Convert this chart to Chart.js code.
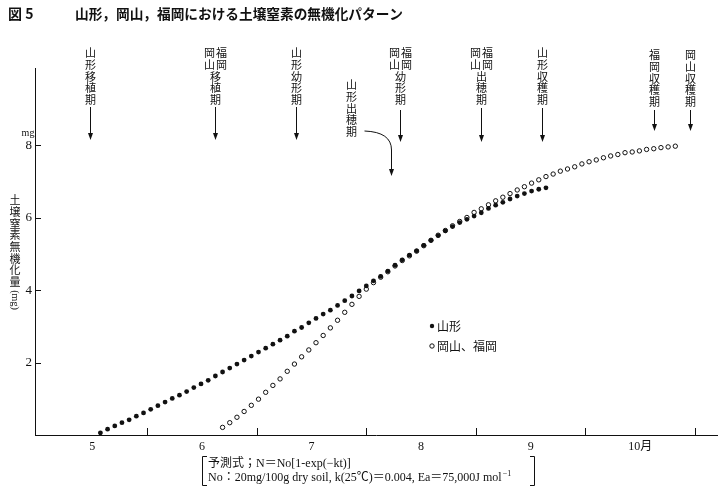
<!DOCTYPE html>
<html>
<head>
<meta charset="utf-8">
<script src="https://cdn.jsdelivr.net/npm/chart.js@4.4.1/dist/chart.umd.min.js"></script>
<style>
  html, body { margin: 0; padding: 0; background: #fff; }
  canvas { display: block; }
</style>
</head>
<body>
<canvas id="chart" width="726" height="492"></canvas>
<script>
// days counted from May 1, one sample every 2 days
const days = [18, 20, 22, 24, 26, 28, 30, 32, 34, 36, 38, 40, 42, 44, 46, 48, 50,
  52, 54, 56, 58, 60, 62, 64, 66, 68, 70, 72, 74, 76, 78, 80, 82, 84, 86, 88, 90,
  92, 94, 96, 98, 100, 102, 104, 106, 108, 110, 112, 114, 116, 118, 120, 122, 124,
  126, 128, 130, 132, 134, 136, 138, 140, 142, 144, 146, 148, 150, 152, 154, 156,
  158, 160, 162, 164, 166, 168, 170, 172, 174, 176, 178];

// 山形 (mg)
const yamagata = [0.06, 0.16, 0.25, 0.34, 0.42, 0.52, 0.61, 0.71, 0.81, 0.91,
  1.01, 1.10, 1.20, 1.31, 1.41, 1.51, 1.63, 1.74, 1.85, 1.96,
  2.07, 2.18, 2.29, 2.40, 2.51, 2.62, 2.73, 2.87, 2.97, 3.10,
  3.22, 3.34, 3.45, 3.58, 3.71, 3.84, 3.98, 4.12, 4.26, 4.38,
  4.53, 4.69, 4.84, 4.97, 5.09, 5.24, 5.38, 5.51, 5.64, 5.76,
  5.87, 5.96, 6.05, 6.14, 6.26, 6.35, 6.43, 6.52, 6.60, 6.67,
  6.74, 6.79, 6.83,
  null, null, null, null, null, null, null, null, null, null,
  null, null, null, null, null, null, null, null];

// 岡山、福岡 (mg)
const okayamaFukuoka = [null, null, null, null, null, null, null, null, null,
  null, null, null, null, null, null, null, null,
  0.21, 0.34, 0.49, 0.65, 0.82, 0.99, 1.18, 1.37, 1.55, 1.76,
  1.96, 2.16, 2.35, 2.55, 2.75, 2.96, 3.17, 3.39, 3.61, 3.83,
  4.03, 4.21, 4.36, 4.51, 4.67, 4.82, 4.95, 5.08, 5.23, 5.38,
  5.52, 5.65, 5.78, 5.90, 6.01, 6.15, 6.25, 6.36, 6.47, 6.57,
  6.67, 6.77, 6.86, 6.96, 7.05, 7.14, 7.21, 7.29, 7.35, 7.41,
  7.49, 7.55, 7.60, 7.66, 7.71, 7.75, 7.80, 7.82, 7.85, 7.89,
  7.91, 7.94, 7.96, 7.98];

const monthEdges = [0.5, 31, 61.5, 92, 122.5, 153, 183.5];
const monthLabels = ['5', '6', '7', '8', '9', '10月'];
const yTicks = [2, 4, 6, 8];

// growth stages: '右列|左列|下' for the two-column headings
const stageLabels = ['山形移植期', '福岡|岡山|移植期', '山形幼形期', '山形出穂期',
  '福岡|岡山|幼形期', '福岡|岡山|出穂期', '山形収穫期', '福岡収穫期', '岡山収穫期'];
const stageDays = [15, 50, 72.5, 99, 101.5, 124, 141, 172, 182];

const monthCenters = monthLabels.map((m, i) => (monthEdges[i] + monthEdges[i + 1]) / 2);

function toPoints(vals) {
  return days.map((d, i) => ({ x: d, y: vals[i] })).filter(p => p.y !== null);
}

const JP = '"Noto Sans CJK JP", sans-serif';
const SERIF = '"Liberation Serif", "Noto Sans CJK JP", serif';

// layout of the stage labels (pixels)
const stageLayout = [
  { top: 53, a1: 107, a2: 140 },
  { top: 53, a1: 107, a2: 140 },
  { top: 53, a1: 107, a2: 140 },
  { top: 85, a1: 150, a2: 176, dx: -40, curve: true },
  { top: 53, a1: 110, a2: 142 },
  { top: 53, a1: 108, a2: 142 },
  { top: 53, a1: 108, a2: 142 },
  { top: 55, a1: 110, a2: 131 },
  { top: 55, a1: 110, a2: 131 }
];

const decor = {
  id: 'decor',
  afterDraw(chart) {
    const c = chart.ctx, xs = chart.scales.x, ys = chart.scales.y, a = chart.chartArea;
    c.save();
    c.strokeStyle = '#111';
    c.fillStyle = '#111';
    c.lineWidth = 1;

    // inward tick marks
    c.beginPath();
    yTicks.forEach(v => {
      const y = Math.round(ys.getPixelForValue(v)) + 0.5;
      c.moveTo(a.left, y); c.lineTo(a.left + 6, y);
    });
    monthEdges.slice(1).forEach(v => {
      const x = Math.round(xs.getPixelForValue(v)) + 0.5;
      c.moveTo(x, a.bottom); c.lineTo(x, a.bottom - 7);
    });
    c.stroke();

    // unit above 8
    c.font = '10px ' + SERIF;
    c.textAlign = 'center';
    c.textBaseline = 'middle';
    c.fillText('mg', 28, ys.getPixelForValue(8) - 12);

    // title
    c.font = 'bold 14px ' + JP;
    c.textAlign = 'left';
    c.fillText('図 5', 8, 14);
    c.fillText('山形，岡山，福岡における土壌窒素の無機化パターン', 75, 14, 328);

    const step = 11.7;
    function vtext(str, x, y0) {
      [...str].forEach((ch, i) => c.fillText(ch, x, y0 + i * step));
    }
    function arrowHead(x, y) {
      c.beginPath();
      c.moveTo(x, y);
      c.lineTo(x - 2.5, y - 7);
      c.lineTo(x + 2.5, y - 7);
      c.closePath();
      c.fill();
    }

    // y axis title (vertical)
    c.font = '11px ' + JP;
    c.textAlign = 'center';
    vtext('土壌窒素無機化量', 15, 200);
    c.save();
    c.translate(15, 300);
    c.rotate(Math.PI / 2);
    c.font = '10px ' + SERIF;
    c.fillText('(mg)', 0, 0);
    c.restore();

    // growth stages
    c.font = '11px ' + JP;
    stageLabels.forEach((lab, i) => {
      const L = stageLayout[i];
      const x = Math.round(xs.getPixelForValue(stageDays[i])) + 0.5;
      const parts = lab.split('|');
      if (parts.length === 3) {
        vtext(parts[0], x + 6, L.top);
        vtext(parts[1], x - 6, L.top);
        vtext(parts[2], x, L.top + 2 * step);
      } else {
        vtext(lab, x + (L.dx || 0), L.top);
      }
      c.beginPath();
      if (L.curve) {
        c.moveTo(x - 27, 131);
        c.quadraticCurveTo(x, 132, x, L.a1);
      } else {
        c.moveTo(x, L.a1);
      }
      c.lineTo(x, L.a2 - 5);
      c.stroke();
      arrowHead(x, L.a2);
    });

    // legend
    const ds = chart.data.datasets;
    c.font = '12px ' + JP;
    c.textAlign = 'left';
    [326, 346].forEach((y, i) => {
      c.beginPath();
      c.arc(432, y, 2.2, 0, Math.PI * 2);
      if (i === 0) { c.fill(); } else { c.fillStyle = '#fff'; c.fill(); c.fillStyle = '#111'; c.stroke(); }
      c.fillText(ds[i].label, 437, y);
    });

    // prediction formula note
    c.font = '12px ' + SERIF;
    c.fillText('予測式；N＝No[1-exp(−kt)]', 208, 464, 166);
    const line2 = 'No：20mg/100g dry soil, k(25℃)＝0.004, Ea＝75,000J mol';
    const maxW = 308;
    const w2 = Math.min(c.measureText(line2).width, maxW);
    c.fillText(line2, 208, 478, maxW);
    c.font = '8px ' + SERIF;
    c.fillText('−1', 208 + w2 + 1, 474);
    c.beginPath();
    c.moveTo(207, 456.5); c.lineTo(202.5, 456.5); c.lineTo(202.5, 485.5); c.lineTo(207, 485.5);
    c.moveTo(530, 456.5); c.lineTo(534.5, 456.5); c.lineTo(534.5, 485.5); c.lineTo(530, 485.5);
    c.stroke();

    c.restore();
  }
};

const ctx = document.getElementById('chart').getContext('2d');
new Chart(ctx, {
  type: 'scatter',
  data: {
    datasets: [{
      label: '山形',
      data: toPoints(yamagata),
      pointRadius: 2.4,
      pointBackgroundColor: '#111',
      pointBorderColor: '#111',
      pointBorderWidth: 0
    }, {
      label: '岡山、福岡',
      data: toPoints(okayamaFukuoka),
      pointRadius: 2.2,
      pointBackgroundColor: '#fff',
      pointBorderColor: '#111',
      pointBorderWidth: 1
    }]
  },
  options: {
    responsive: false,
    animation: false,
    layout: { padding: { top: 68, right: 9, left: 0, bottom: 0 } },
    plugins: { legend: { display: false }, tooltip: { enabled: false } },
    scales: {
      x: {
        type: 'linear',
        min: -0.2,
        max: 189.6,
        afterFit: s => { s.height = 57; },
        afterBuildTicks: s => { s.ticks = monthCenters.map(v => ({ value: v })); },
        grid: { display: false, drawTicks: false },
        border: { display: true, color: '#111', width: 1 },
        ticks: {
          autoSkip: false, maxRotation: 0, padding: 5, color: '#111',
          font: { family: SERIF, size: 12 },
          callback: (v, i) => monthLabels[i]
        }
      },
      y: {
        min: 0,
        max: 10.14,
        afterFit: s => { s.width = 35; },
        afterBuildTicks: s => { s.ticks = yTicks.map(v => ({ value: v })); },
        grid: { display: false, drawTicks: false },
        border: { display: true, color: '#111', width: 1 },
        ticks: {
          padding: 3, color: '#111',
          font: { family: SERIF, size: 13 }
        }
      }
    }
  },
  plugins: [decor]
});
</script>
</body>
</html>
